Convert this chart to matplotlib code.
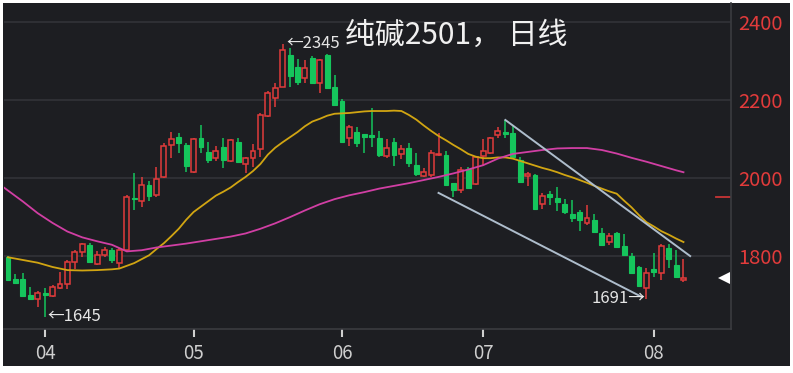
import matplotlib
matplotlib.use("Agg")
import matplotlib.pyplot as plt
from matplotlib.patches import Rectangle
import numpy as np

plt.rcParams['font.family'] = ['Noto Sans CJK SC', 'DejaVu Sans']

# 日K线数据 (纯碱2501), 3月25日 ~ 8月7日
opens = [1798, 1741, 1741, 1700, 1690, 1705, 1697, 1718, 1728, 1784,
         1810, 1828, 1779, 1803, 1815, 1782, 1815, 1949, 1941, 1982,
         1956, 2003, 2085, 2105, 2085, 2015, 2103, 2067, 2051, 2079,
         2044, 2092, 2036, 2051, 2074, 2159, 2205, 2233, 2315, 2285,
         2256, 2308, 2244, 2315, 2233, 2197, 2103, 2118, 2113, 2110,
         2103, 2056, 2092, 2062, 2077, 2033, 2005, 2008, 2059, 2059,
         1987, 1969, 2023, 1985, 2056, 2064, 2110, 2118, 2115, 2046,
         2005, 2008, 1933, 1959, 1949, 1933, 1908, 1913, 1885, 1892,
         1859, 1836, 1859, 1826, 1800, 1772, 1718, 1767, 1756, 1821,
         1777, 1738]
highs = [1800, 1754, 1756, 1720, 1710, 1718, 1726, 1759, 1790, 1815,
         1833, 1833, 1813, 1823, 1820, 1820, 1956, 2013, 2003, 1992,
         2028, 2090, 2118, 2115, 2090, 2103, 2136, 2092, 2082, 2103,
         2100, 2103, 2054, 2087, 2167, 2223, 2244, 2345, 2333, 2305,
         2303, 2313, 2305, 2318, 2264, 2203, 2136, 2131, 2113, 2180,
         2120, 2100, 2103, 2085, 2090, 2064, 2026, 2072, 2115, 2069,
         1987, 2028, 2028, 2056, 2100, 2105, 2131, 2149, 2136, 2054,
         2015, 2010, 1962, 1967, 1977, 1946, 1944, 1918, 1931, 1908,
         1872, 1859, 1862, 1856, 1808, 1774, 1769, 1808, 1831, 1831,
         1815, 1792]
lows = [1736, 1728, 1694, 1687, 1669, 1645, 1694, 1715, 1715, 1768,
        1797, 1785, 1777, 1797, 1782, 1769, 1810, 1918, 1926, 1941,
        1951, 2000, 2051, 2064, 2015, 2013, 2064, 2038, 2044, 2026,
        2041, 2038, 2013, 2028, 2054, 2156, 2182, 2233, 2233, 2238,
        2244, 2241, 2218, 2228, 2185, 2090, 2082, 2079, 2064, 2079,
        2054, 2051, 2031, 2049, 2028, 2005, 2003, 2003, 2056, 1979,
        1951, 1962, 1972, 1982, 2031, 2062, 2103, 2103, 2051, 1990,
        1979, 1918, 1921, 1931, 1915, 1908, 1887, 1864, 1879, 1859,
        1826, 1828, 1820, 1800, 1756, 1721, 1691, 1746, 1738, 1769,
        1746, 1733]
closes = [1738, 1731, 1697, 1690, 1705, 1700, 1720, 1728, 1785, 1810,
          1831, 1785, 1802, 1815, 1790, 1815, 1951, 1946, 1982, 1954,
          1997, 2082, 2100, 2090, 2031, 2100, 2079, 2046, 2069, 2046,
          2097, 2041, 2051, 2069, 2161, 2218, 2231, 2328, 2262, 2246,
          2282, 2244, 2303, 2231, 2187, 2092, 2131, 2090, 2105, 2105,
          2059, 2077, 2059, 2074, 2038, 2010, 2015, 2064, 2062, 1982,
          1969, 2020, 1974, 2054, 2069, 2103, 2121, 2113, 2054, 1990,
          2010, 1921, 1954, 1951, 1938, 1913, 1897, 1892, 1897, 1862,
          1828, 1851, 1823, 1803, 1756, 1723, 1756, 1759, 1826, 1792,
          1746, 1743]

# 均线 (读图取值)
ma_short_idx = [0, 2, 4, 6, 8, 10, 12, 14, 15, 16, 17, 18, 19, 20, 21, 22, 23, 24, 25,
                26, 27, 28, 29, 30, 31, 32, 33, 34, 35, 36, 37, 38, 39, 40, 41, 42,
                43, 44, 45, 46, 47, 48, 49, 50, 51, 52, 53, 54, 55, 56, 57, 58, 59,
                60, 61, 62, 63, 64, 65, 66, 67, 68, 69, 70, 71, 72, 73, 74, 75, 76,
                77, 78, 79, 80, 81, 82, 83, 84, 85, 86, 87, 88, 89, 90, 91]
ma_short = [1797, 1790, 1783, 1772, 1764, 1763, 1764, 1766, 1768, 1775, 1782, 1792,
            1802, 1818, 1833, 1851, 1870, 1893, 1913, 1927, 1941, 1955, 1965, 1976,
            1990, 2003, 2018, 2036, 2060, 2078, 2092, 2105, 2118, 2133, 2145, 2152,
            2160, 2165, 2166, 2167, 2169, 2171, 2172, 2172, 2172, 2173, 2172, 2162,
            2150, 2135, 2121, 2108, 2097, 2085, 2074, 2062, 2055, 2051, 2051, 2053,
            2053, 2050, 2044, 2038, 2032, 2026, 2021, 2015, 2008, 2002, 1995, 1988,
            1980, 1973, 1966, 1960, 1942, 1925, 1905, 1887, 1876, 1864, 1855, 1845,
            1836]
ma_long_idx = [-0.5, 0, 2, 4, 6, 8, 10, 12, 14, 16, 18, 20, 22, 24, 26, 28, 30, 32, 34,
               36, 38, 40, 42, 44, 46, 48, 50, 52, 54, 56, 58, 60, 62, 64, 66, 68,
               70, 72, 74, 76, 78, 80, 82, 84, 86, 88, 90, 91]
ma_long = [1975, 1968, 1940, 1910, 1885, 1863, 1848, 1838, 1829, 1812, 1815, 1822,
           1827, 1832, 1838, 1844, 1850, 1858, 1870, 1884, 1900, 1917, 1933, 1946,
           1956, 1964, 1973, 1980, 1987, 1995, 2003, 2012, 2022, 2033, 2050, 2062,
           2067, 2072, 2076, 2077, 2077, 2072, 2063, 2052, 2042, 2031, 2020, 2015]

# 趋势线
upper_trend = ([67, 91.9], [2149, 1800])
lower_trend = ([58, 85.4], [1962, 1695])

month_idx = [5, 25, 45, 64, 87]
month_labels = ['04', '05', '06', '07', '08']
y_ticks = [1800, 2000, 2200, 2400]

bg = '#1d1e22'
red = '#e23b3b'
green = '#15c55c'

fig = plt.figure(figsize=(7.93, 3.73), dpi=100)
fig.patch.set_facecolor('white')
fig.patches.append(Rectangle((3 / 793, 1 - 366 / 373), 787 / 793, 363 / 373,
                             transform=fig.transFigure, facecolor=bg,
                             edgecolor='none', zorder=-5))

ax = fig.add_axes([4 / 793, 1 - 329 / 373, 727 / 793, 326 / 373])
ax.set_zorder(2)
ax.set_facecolor(bg)
ax.set_xlim(-0.54, 97.4)
ax.set_ylim(1613, 2449)

for y in y_ticks:
    ax.axhline(y, color='#323338', lw=1.2, zorder=1)

w = 0.66
for i in range(len(opens)):
    o, h, l, c = opens[i], highs[i], lows[i], closes[i]
    up = c >= o
    col = red if up else green
    ax.vlines(i, l, h, color=col, lw=1.1, zorder=2)
    bottom = min(o, c)
    height = max(abs(c - o), 2.5)
    if up:
        ax.add_patch(Rectangle((i - w / 2, bottom), w, height, facecolor=bg,
                               edgecolor=col, lw=1.1, zorder=3))
    else:
        ax.add_patch(Rectangle((i - w / 2, bottom), w, height, facecolor=col,
                               edgecolor=col, lw=0.8, zorder=3))

ax.plot(ma_short_idx, ma_short, color='#d1a512', lw=1.3, zorder=4)
ax.plot(ma_long_idx, ma_long, color='#d13fa4', lw=1.3, zorder=4)
ax.plot(*upper_trend, color='#aebdcc', lw=1.4, zorder=5)
ax.plot(*lower_trend, color='#aebdcc', lw=1.4, zorder=5)

ax.text(37.5, 2345, '←2345', color='#e6e6e6', fontsize=12, va='center', ha='left', zorder=6)
ax.text(5.3, 1645, '←1645', color='#e6e6e6', fontsize=12, va='center', ha='left', zorder=6)
ax.text(85.8, 1691, '1691→', color='#e6e6e6', fontsize=12, va='center', ha='right', zorder=6)
ax.text(341 / 727, 1 - 32 / 326, '纯碱2501， 日线', color='#f0f0f0', fontsize=21.5,
        va='center', ha='left', transform=ax.transAxes, zorder=6)

# 右侧标记
trans = ax.get_yaxis_transform()
ax.plot([0.979, 0.998], [1951, 1951], color='#c83535', lw=1.3, transform=trans, clip_on=False)
ax.plot([0.991], [closes[-1]], marker='<', color='white', ms=8, transform=trans,
        clip_on=False, markeredgewidth=0)

ax.yaxis.tick_right()
ax.set_yticks(y_ticks)
ax.set_yticklabels([str(v) for v in y_ticks])
ax.tick_params(axis='y', length=0, pad=5, labelcolor=red, labelsize=14.5)
ax.set_xticks(month_idx)
ax.set_xticklabels(month_labels)
ax.tick_params(axis='x', length=6, width=1.5, color='#d0d0d0', pad=4,
               labelcolor='#cfcfcf', labelsize=13.5)

for side in ['top', 'left']:
    ax.spines[side].set_visible(False)
for side in ['right', 'bottom']:
    ax.spines[side].set_color('#3a3b40')
    ax.spines[side].set_linewidth(1.2)

fig.savefig('out.png', dpi=100, facecolor=fig.get_facecolor())
